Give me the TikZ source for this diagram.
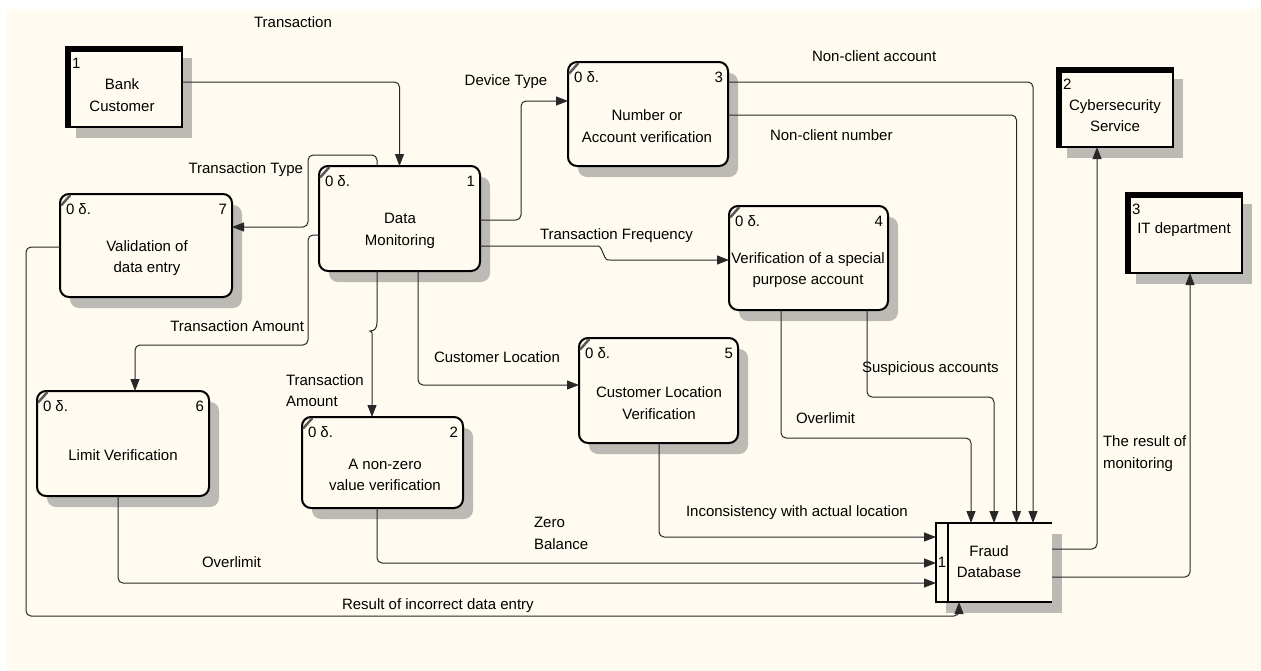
\documentclass[tikz,border=0pt]{standalone}
\usepackage{fontspec}
\setmainfont{Liberation Sans}
\usetikzlibrary{arrows.meta,shadows}

\definecolor{paper}{RGB}{255,251,240}
\definecolor{shade}{RGB}{188,186,181}
\definecolor{ink}{RGB}{40,40,40}

\tikzset{
  every node/.style={font=\fontsize{15}{21.5}\selectfont, inner sep=0pt, outer sep=0pt},
  boxshadow/.style={drop shadow={shadow xshift=10pt, shadow yshift=-11pt, fill=shade, opacity=1}},
  procbox/.style={draw=black, line width=2pt, rounded corners=9pt, fill=paper, boxshadow},
  extbox/.style={draw=black, line width=2pt, fill=paper, boxshadow},
  storebox/.style={fill=paper, boxshadow},
  flow/.style={draw=ink, line width=1pt, rounded corners=5pt, -{Triangle[length=12pt,width=9pt]}},
  penmark/.style={draw=black!65, line width=2.5pt, line cap=round},
}

% process: name, x, y, width, height, number
\newcommand{\dfdproc}[6]{%
  \node[procbox, minimum width=#4pt, minimum height=#5pt] (#1) at (#2,#3) {};
  \draw[penmark] ([shift={(1.5pt,-11pt)}]#1.north west) -- ([shift={(10pt,-1.5pt)}]#1.north west);
  \node[anchor=west] (#1-id) at ([shift={(6pt,-15pt)}]#1.north west) {0 δ.};
  \node[anchor=east] (#1-no) at ([shift={(-5pt,-15pt)}]#1.north east) {#6};
}
% external entity: name, x, y, width, height, number
\newcommand{\dfdext}[6]{%
  \node[extbox, minimum width=#4pt, minimum height=#5pt] (#1) at (#2,#3) {};
  \draw[line width=5pt] ([xshift=2.5pt]#1.south west) -- ([xshift=2.5pt,yshift=-2.5pt]#1.north west) -- ([yshift=-2.5pt]#1.north east);
  \node[anchor=west] (#1-no) at ([shift={(6pt,-16pt)}]#1.north west) {#6};
}

\begin{document}
\begin{tikzpicture}[x=1pt, y=-1pt]
  \useasboundingbox (0,0) rectangle (1261,670);
  \fill[white] (-5,-5) rectangle (1275,685);
  \fill[paper] (7,9) rectangle (1275,685);

  % external entities
  \dfdext{bank}{124}{87}{116}{80}{1}
  \dfdext{cyber}{1115}{107.5}{116}{79}{2}
  \dfdext{it}{1184}{233}{116}{80}{3}

  % processes
  \dfdproc{dm}{399.5}{218.5}{161}{105}{1}
  \dfdproc{num}{648}{114}{160}{104}{3}
  \dfdproc{val}{146}{245.5}{172}{103}{7}
  \dfdproc{spec}{808.5}{258}{159}{104}{4}
  \dfdproc{clv}{658.5}{390.5}{159}{105}{5}
  \dfdproc{lim}{123}{443.5}{172}{105}{6}
  \dfdproc{nz}{382.5}{462.5}{161}{91}{2}

  % data store
  \node[storebox, minimum width=116pt, minimum height=79pt] (fraud) at (994,562.5) {};
  \draw[line width=2.5pt] (fraud.north east) -- (fraud.north west) -- (fraud.south west) -- (fraud.south east);
  \draw[line width=2pt] ([xshift=12pt]fraud.north west) -- ([xshift=12pt]fraud.south west);
  \node (fraud-no) at ([xshift=6pt]fraud.west) {1};

  % box titles
  \node[align=center] (bank-t) at (122,95) {Bank\\Customer};
  \node[align=center] (cyber-t) at (1115,115.5) {Cybersecurity\\Service};
  \node (it-t) at (1184,230) {IT department};
  \node[align=center] (dm-t) at (400,231) {Data\\Monitoring};
  \node[align=center] (num-t) at (647,126) {Number or\\Account verification};
  \node[align=center] (val-t) at (147,258) {Validation of\\data entry};
  \node[align=center] (spec-t) at (808,270) {Verification of a special\\purpose account};
  \node[align=center] (clv-t) at (659,403) {Customer Location\\Verification};
  \node (lim-t) at (123,455) {Limit Verification};
  \node[align=center] (nz-t) at (385,475) {A non-zero\\value verification};
  \node[align=center] (fraud-t) at (989,561.5) {Fraud\\Database};

  % data flows
  \draw[flow] ([yshift=5pt]bank.east) -| (dm.north);
  \draw[flow] ([xshift=-22.5pt]dm.north) -- ++(0,-11) -- ++(-69,0) |- ([yshift=18.5pt]val.east);
  \draw[flow] ([yshift=-16.5pt]dm.west) -- ++(-11,0) -- ++(0,110) -| ([xshift=12pt]lim.north);
  \draw[flow, sharp corners] ([xshift=-22.5pt]dm.south) -- (377,322)
      .. controls (377,328) and (375,331) .. (370,331)
      .. controls (373,332) and (372,335) .. (372,340) -- ([xshift=-10.5pt]nz.north);
  \draw[flow] ([xshift=18.5pt]dm.south) |- ([yshift=5.5pt]clv.west);
  \draw[flow] ([yshift=-1.5pt]dm.east) -- ++(41,0) |- ([yshift=13pt]num.west);
  \draw[flow, sharp corners] ([yshift=-27.5pt]dm.east) -- (596,246)
      .. controls (600,246) .. (603,253)
      .. controls (606,260) .. (610,260) -- ([yshift=-2pt]spec.west);
  \draw[flow] ([yshift=32pt]num.east) -| ([xshift=39pt]fraud.north);
  \draw[flow] ([yshift=-1pt]num.east) -| ([xshift=22.5pt]fraud.north);
  \draw[flow] ([xshift=-27.5pt]spec.south) -- ++(0,128) -| ([xshift=-23pt]fraud.north);
  \draw[flow] ([xshift=58.5pt]spec.south) -- ++(0,87) -| (fraud.north);
  \draw[flow] ([xshift=0.5pt]clv.south) |- ([yshift=25.5pt]fraud.west);
  \draw[flow] ([xshift=-5.5pt]nz.south) |- ([yshift=-0.5pt]fraud.west);
  \draw[flow] ([xshift=-5pt]lim.south) |- ([yshift=-20.5pt]fraud.west);
  \draw[flow] ([yshift=-1.5pt]val.west) -| (26,616) -| ([xshift=-35pt]fraud.south);
  \draw[flow] ([yshift=13.5pt]fraud.east) -| ([xshift=-18pt]cyber.south);
  \draw[flow] ([yshift=-14.5pt]fraud.east) -| ([xshift=6pt]it.south);

  % flow labels
  \node (l-trans) at (293,22) {Transaction};
  \node[anchor=east] (l-ttype) at (303,170) {Transaction Type};
  \node[anchor=east] (l-tamt1) at (304,326) {Transaction Amount};
  \node[anchor=west, align=left] (l-tamt2) at (286,390.5) {Transaction\\Amount};
  \node[anchor=west] (l-cloc) at (434,357) {Customer Location};
  \node (l-dev) at (506,82) {Device Type};
  \node[anchor=west] (l-freq) at (540,236) {Transaction Frequency};
  \node[anchor=west] (l-nca) at (812,56) {Non-client account};
  \node[anchor=west] (l-ncn) at (770,135) {Non-client number};
  \node[anchor=west] (l-over1) at (796,418) {Overlimit};
  \node[anchor=west] (l-susp) at (862,369) {Suspicious accounts};
  \node[anchor=west, align=left] (l-res) at (1103,453.5) {The result of\\monitoring};
  \node[anchor=west] (l-inc) at (686,513) {Inconsistency with actual location};
  \node[anchor=west, align=left] (l-zero) at (534,533.5) {Zero\\Balance};
  \node[anchor=west] (l-over2) at (202,562) {Overlimit};
  \node[anchor=west] (l-err) at (342,606) {Result of incorrect data entry};
\end{tikzpicture}
\end{document}
